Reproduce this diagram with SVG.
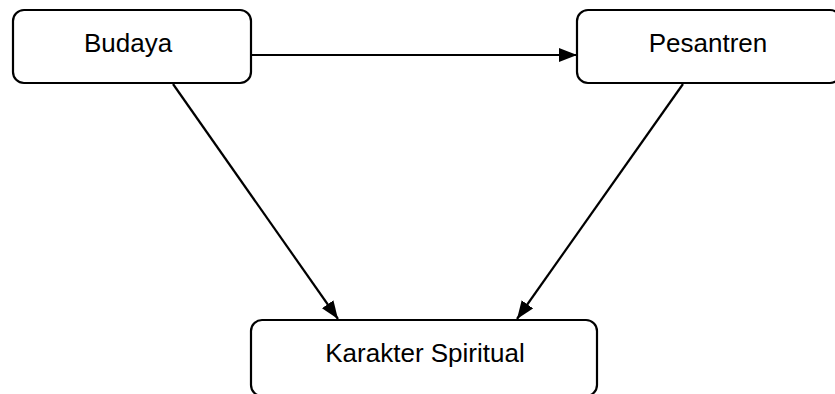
<svg xmlns="http://www.w3.org/2000/svg" width="835" height="394" viewBox="0 0 835 394">
<style>
.box{fill:#fff;stroke:#000;stroke-width:2.2}
.lbl{font-family:"Liberation Sans",Arial,sans-serif;font-size:26px;fill:#000;text-anchor:middle}
.conn{stroke:#000;stroke-width:2.2;fill:none;marker-end:url(#arr)}
</style>
<defs>
<marker id="arr" markerUnits="userSpaceOnUse" markerWidth="18" markerHeight="14" refX="18" refY="7" orient="auto">
<path d="M0,0 L18,7 L0,14 Z" fill="#000"/>
</marker>
</defs>
<rect width="835" height="394" fill="#fff"/>
<g id="connectors">
<line class="conn" x1="251" y1="55" x2="577" y2="55"/>
<line class="conn" x1="173" y1="84" x2="338" y2="319"/>
<line class="conn" x1="683" y1="84" x2="517" y2="319"/>
</g>
<g id="budaya">
<rect class="box" x="13" y="10" width="238" height="73" rx="11"/>
<text class="lbl" x="128" y="52">Budaya</text>
</g>
<g id="pesantren">
<rect class="box" x="577" y="10" width="264" height="73" rx="11"/>
<text class="lbl" x="708" y="52">Pesantren</text>
</g>
<g id="karakter">
<rect class="box" x="251" y="320" width="346" height="76" rx="11"/>
<text class="lbl" x="425" y="362">Karakter Spiritual</text>
</g>
</svg>
